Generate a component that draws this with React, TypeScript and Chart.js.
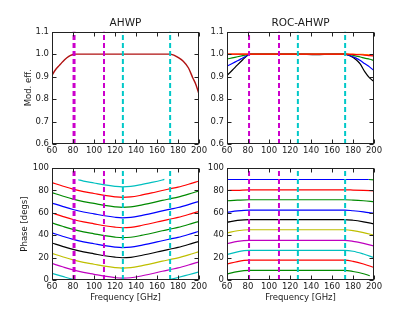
import React, { useEffect, useRef } from 'react';
import { Chart, registerables } from 'chart.js';
Chart.register(...registerables);

// ---------- data ----------
const bandMagenta = [81, 109.5];
const bandCyan = [127.5, 172.5];

// AHWP modulation efficiency
const ahwpFreq = [60, 63, 66, 68, 72, 76, 80, 82, 100, 127, 150, 172, 176, 180, 185, 190, 194, 197, 200];
const ahwpEff = [0.905, 0.928, 0.945, 0.955, 0.975, 0.99, 0.998, 1.0, 1.0, 1.0, 1.0, 1.0, 0.995, 0.985, 0.968, 0.938, 0.895, 0.865, 0.822];

// ROC-AHWP modulation efficiency
const rocFreq = [60, 65, 70, 75, 80, 82, 100, 127, 145, 160, 172, 177, 183, 187, 191, 196, 200];
const rocBlack = [0.905, 0.928, 0.952, 0.975, 0.996, 1.0, 1.0, 1.0, 0.997, 1.0, 1.0, 0.993, 0.975, 0.955, 0.923, 0.893, 0.878];
const rocBlue = [0.947, 0.958, 0.97, 0.983, 0.996, 1.0, 1.0, 1.0, 0.999, 1.0, 1.0, 0.993, 0.982, 0.971, 0.958, 0.942, 0.927];
const rocGreen = [0.978, 0.983, 0.988, 0.993, 0.998, 1.0, 1.0, 1.0, 1.0, 1.0, 1.0, 0.997, 0.991, 0.987, 0.982, 0.977, 0.971];
const rocRed = [1.0, 1.0, 1.0, 1.0, 1.0, 1.0, 1.0, 1.0, 1.0, 1.0, 1.0, 0.999, 0.998, 0.997, 0.995, 0.993, 0.991];
const rocOrange = [1.0, 1.0, 1.0, 1.0, 1.0, 1.0, 1.0, 1.0, 1.0, 1.0, 1.0, 1.0, 0.999, 0.999, 0.998, 0.997, 0.996];

// AHWP phase
const phaseFreq = [60, 70, 80, 90, 100, 110, 120, 127, 135, 145, 155, 165, 173, 180, 190, 200];
const phaseRed1 = [87.0, 84.0, 81.2, 79.0, 77.3, 75.6, 74.3, 73.8, 74.2, 75.8, 77.8, 80.0, 81.6, 83.0, 85.6, 88.5];
const phaseGreen1 = [78.1, 75.1, 72.3, 70.1, 68.4, 66.7, 65.4, 64.9, 65.3, 66.9, 68.9, 71.1, 72.7, 74.1, 76.7, 79.6];
const phaseBlue1 = [68.8, 65.8, 63.0, 60.8, 59.1, 57.4, 56.1, 55.6, 56.0, 57.6, 59.6, 61.8, 63.4, 64.8, 67.4, 70.3];
const phaseRed2 = [59.9, 56.9, 54.1, 51.9, 50.2, 48.5, 47.2, 46.7, 47.1, 48.7, 50.7, 52.9, 54.5, 55.9, 58.5, 61.4];
const phaseGreen2 = [51.0, 48.0, 45.2, 43.0, 41.3, 39.6, 38.3, 37.8, 38.2, 39.8, 41.8, 44.0, 45.6, 47.0, 49.6, 52.5];
const phaseBlue2 = [42.1, 39.1, 36.3, 34.1, 32.4, 30.7, 29.4, 28.9, 29.3, 30.9, 32.9, 35.1, 36.7, 38.1, 40.7, 43.6];
const phaseBlack = [33.1, 30.1, 27.3, 25.1, 23.4, 21.7, 20.4, 19.9, 20.3, 21.9, 23.9, 26.1, 27.7, 29.1, 31.7, 34.6];
const phaseYellow = [23.8, 20.8, 18.0, 15.8, 14.1, 12.4, 11.1, 10.6, 11.0, 12.6, 14.6, 16.8, 18.4, 19.8, 22.4, 25.3];
const phaseMagenta = [14.8, 11.8, 9.0, 6.8, 5.1, 3.4, 2.1, 1.6, 2.0, 3.6, 5.6, 7.8, 9.4, 10.8, 13.4, 16.3];
const cyanTopFreq = [85, 90, 100, 110, 120, 127, 135, 145, 155, 165, 167];
const cyanTop = [89.6, 88.4, 86.7, 85.0, 83.7, 83.2, 83.6, 85.2, 87.2, 89.4, 89.9];
const cyanLowLFreq = [60, 70, 80, 83];
const cyanLowL = [5.9, 3.2, 0.6, 0.0];
const cyanLowRFreq = [171, 180, 190, 200];
const cyanLowR = [0.1, 2.2, 4.7, 7.2];

// ROC-AHWP phase
const rocPhaseFreq = [60, 70, 81, 100, 127, 150, 172, 180, 190, 200];
const rpBlueTopFreq = [60, 195];
const rpBlueTop = [89.8, 89.8];
const rpGreenWrapFreq = [195, 200];
const rpGreenWrap = [89.8, 89.5];
const rpRed80 = [80.0, 80.1, 80.6, 80.6, 80.6, 80.6, 80.6, 80.4, 80.1, 79.7];
const rpGreen71 = [70.8, 71.3, 71.7, 71.7, 71.7, 71.7, 71.7, 71.4, 70.8, 70.0];
const rpBlue62 = [60.5, 61.8, 62.5, 62.5, 62.5, 62.5, 62.5, 61.9, 60.9, 59.6];
const rpBlack53 = [51.6, 53.2, 54.0, 54.0, 54.0, 54.0, 54.0, 53.4, 52.0, 50.2];
const rpYellow44 = [42.2, 44.0, 44.9, 44.9, 44.9, 44.9, 44.9, 44.2, 42.4, 40.1];
const rpMagenta35 = [32.5, 34.5, 35.4, 35.4, 35.4, 35.4, 35.4, 34.6, 32.8, 30.4];
const rpCyan26 = [22.7, 25.2, 26.5, 26.5, 26.5, 26.5, 26.5, 25.7, 23.2, 20.1];
const rpRed17 = [14.2, 16.5, 17.7, 17.7, 17.7, 17.7, 17.7, 16.7, 14.3, 11.2];
const rpGreen8Freq = [60, 70, 81, 100, 127, 150, 172, 180, 190, 196];
const rpGreen8 = [5.3, 7.5, 8.6, 8.6, 8.6, 8.6, 8.6, 7.6, 5.6, 3.8];

// ---------- styling ----------
const C = {
  b: '#0000ff', g: '#008a00', r: '#ff0000', c: '#00bfbf', m: '#bf00bf', y: '#bfbf00', k: '#000000',
  o: '#ff8c00', dark: '#b01010', dm: '#cc00cc', dc: '#00c8c8',
};
const FONT = 'DejaVu Sans';
const TXT = '#1a1a1a';

const pts = (xs: number[], ys: number[]) => xs.map((x, i) => ({ x, y: ys[i] }));

const line = (xs: number[], ys: number[], color: string, width = 1.2) => ({
  data: pts(xs, ys),
  borderColor: color,
  borderWidth: width,
  pointRadius: 0,
  fill: false,
  cubicInterpolationMode: 'monotone' as const,
});

const vlines = (ymin: number, ymax: number, thickFirst: boolean) => [
  ...bandMagenta.map((f, i) => ({
    data: [{ x: f, y: ymin }, { x: f, y: ymax }],
    borderColor: C.dm,
    borderWidth: thickFirst && i === 0 ? 3 : 2,
    borderDash: [5, 3],
    pointRadius: 0,
    fill: false,
  })),
  ...bandCyan.map((f) => ({
    data: [{ x: f, y: ymin }, { x: f, y: ymax }],
    borderColor: C.dc,
    borderWidth: 2,
    borderDash: [5, 3],
    pointRadius: 0,
    fill: false,
  })),
];

const framePlugin = {
  id: 'frame',
  afterDatasetsDraw(chart: any) {
    const { ctx, chartArea, scales } = chart;
    const L = Math.round(chartArea.left) + 0.5;
    const R = Math.round(chartArea.right) - 0.5;
    const T = Math.round(chartArea.top) + 0.5;
    const B = Math.round(chartArea.bottom) - 0.5;
    ctx.save();
    ctx.strokeStyle = '#222';
    ctx.lineWidth = 1;
    ctx.setLineDash([]);
    ctx.strokeRect(L, T, R - L, B - T);
    ctx.beginPath();
    const len = 4;
    scales.x.ticks.forEach((t: any) => {
      const px = Math.round(scales.x.getPixelForValue(t.value)) + 0.5;
      ctx.moveTo(px, B); ctx.lineTo(px, B - len);
      ctx.moveTo(px, T); ctx.lineTo(px, T + len);
    });
    scales.y.ticks.forEach((t: any) => {
      const py = Math.round(scales.y.getPixelForValue(t.value)) + 0.5;
      ctx.moveTo(L, py); ctx.lineTo(L + len, py);
      ctx.moveTo(R, py); ctx.lineTo(R - len, py);
    });
    ctx.stroke();
    ctx.restore();
  },
};

type Panel = {
  left: number; top: number; width: number; height: number;
  datasets: any[];
  yMin: number; yMax: number; yStep: number; decimals: number;
  title?: string; yTitle?: string; xTitle?: string;
  yAxisWidth: number; xAxisHeight: number;
  pad: { left: number; right: number; top: number; bottom: number };
  yTitlePad?: number; xTitlePad?: number;
};

function makeConfig(p: Panel): any {
  return {
    type: 'line',
    data: { datasets: p.datasets },
    plugins: [framePlugin],
    options: {
      responsive: false,
      animation: false,
      events: [],
      layout: { padding: p.pad },
      plugins: {
        legend: { display: false },
        tooltip: { enabled: false },
        title: p.title
          ? {
              display: true,
              fullSize: false,
              text: p.title,
              color: TXT,
              font: { family: FONT, size: 10.5, weight: 'normal' },
              padding: { top: 17, bottom: 2 },
            }
          : { display: false },
      },
      scales: {
        x: {
          type: 'linear',
          min: 60,
          max: 200,
          grid: { display: false, drawTicks: false },
          border: { display: false },
          ticks: {
            stepSize: 20,
            autoSkip: false,
            maxRotation: 0,
            minRotation: 0,
            padding: 2,
            color: TXT,
            font: { family: FONT, size: 8.5 },
          },
          title: p.xTitle
            ? {
                display: true,
                text: p.xTitle,
                color: TXT,
                font: { family: FONT, size: 8.5 },
                padding: { top: 0, bottom: p.xTitlePad ?? 0 },
              }
            : { display: false },
          afterFit: (s: any) => { s.height = p.xAxisHeight; },
        },
        y: {
          type: 'linear',
          min: p.yMin,
          max: p.yMax,
          grid: { display: false, drawTicks: false },
          border: { display: false },
          ticks: {
            stepSize: p.yStep,
            autoSkip: false,
            padding: 3,
            color: TXT,
            font: { family: FONT, size: 8.5 },
            callback: (v: any) => Number(v).toFixed(p.decimals),
          },
          title: p.yTitle
            ? {
                display: true,
                text: p.yTitle,
                color: TXT,
                font: { family: FONT, size: 8.5 },
                padding: { top: p.yTitlePad ?? 0, bottom: 0 },
              }
            : { display: false },
          afterFit: (s: any) => { s.width = p.yAxisWidth; },
        },
      },
    },
  };
}

const panels: Panel[] = [
  {
    left: 0, top: 0, width: 210, height: 160,
    datasets: [...vlines(0.6, 1.1, true), line(ahwpFreq, ahwpEff, C.dark, 1.4)],
    yMin: 0.6, yMax: 1.1, yStep: 0.1, decimals: 1,
    title: 'AHWP', yTitle: 'Mod. eff.',
    yAxisWidth: 52, xAxisHeight: 16,
    pad: { left: 0, right: 11, top: 0, bottom: 0 },
    yTitlePad: 24,
  },
  {
    left: 205, top: 0, width: 210, height: 160,
    datasets: [
      ...vlines(0.6, 1.1, false),
      line(rocFreq, rocRed, C.r),
      line(rocFreq, rocOrange, C.o),
      line(rocFreq, rocGreen, C.g),
      line(rocFreq, rocBlue, C.b),
      line(rocFreq, rocBlack, C.k),
    ],
    yMin: 0.6, yMax: 1.1, yStep: 0.1, decimals: 1,
    title: 'ROC-AHWP',
    yAxisWidth: 22, xAxisHeight: 16,
    pad: { left: 0, right: 41, top: 0, bottom: 0 },
  },
  {
    left: 0, top: 160, width: 210, height: 152,
    datasets: [
      ...vlines(0, 100, true),
      line(cyanTopFreq, cyanTop, C.c),
      line(phaseFreq, phaseRed1, C.r),
      line(phaseFreq, phaseGreen1, C.g),
      line(phaseFreq, phaseBlue1, C.b),
      line(phaseFreq, phaseRed2, C.r),
      line(phaseFreq, phaseGreen2, C.g),
      line(phaseFreq, phaseBlue2, C.b),
      line(phaseFreq, phaseBlack, C.k),
      line(phaseFreq, phaseYellow, C.y),
      line(phaseFreq, phaseMagenta, C.m),
      line(cyanLowLFreq, cyanLowL, C.c),
      line(cyanLowRFreq, cyanLowR, C.c),
    ],
    yMin: 0, yMax: 100, yStep: 20, decimals: 0,
    yTitle: 'Phase [degs]', xTitle: 'Frequency [GHz]',
    yAxisWidth: 52, xAxisHeight: 32,
    pad: { left: 0, right: 11, top: 7, bottom: 0 },
    yTitlePad: 20, xTitlePad: 9,
  },
  {
    left: 205, top: 160, width: 210, height: 152,
    datasets: [
      ...vlines(0, 100, false),
      line(rpBlueTopFreq, rpBlueTop, C.b),
      line(rpGreenWrapFreq, rpGreenWrap, C.g),
      line(rocPhaseFreq, rpRed80, C.r),
      line(rocPhaseFreq, rpGreen71, C.g),
      line(rocPhaseFreq, rpBlue62, C.b),
      line(rocPhaseFreq, rpBlack53, C.k),
      line(rocPhaseFreq, rpYellow44, C.y),
      line(rocPhaseFreq, rpMagenta35, C.m),
      line(rocPhaseFreq, rpCyan26, C.c),
      line(rocPhaseFreq, rpRed17, C.r),
      line(rpGreen8Freq, rpGreen8, C.g),
    ],
    yMin: 0, yMax: 100, yStep: 20, decimals: 0,
    xTitle: 'Frequency [GHz]',
    yAxisWidth: 22, xAxisHeight: 32,
    pad: { left: 0, right: 41, top: 7, bottom: 0 },
    xTitlePad: 9,
  },
];

export default function App() {
  const refs = [useRef<HTMLCanvasElement>(null), useRef<HTMLCanvasElement>(null), useRef<HTMLCanvasElement>(null), useRef<HTMLCanvasElement>(null)];
  useEffect(() => {
    const charts = panels.map((p, i) => new Chart(refs[i].current as HTMLCanvasElement, makeConfig(p)));
    return () => charts.forEach((c) => c.destroy());
  }, []);
  return (
    <div style={{ position: 'absolute', left: 0, top: 0, width: 415, height: 312, background: '#fff' }}>
      {panels.map((p, i) => (
        <canvas
          key={i}
          ref={refs[i]}
          width={p.width}
          height={p.height}
          style={{ position: 'absolute', left: p.left, top: p.top, width: p.width, height: p.height }}
        />
      ))}
    </div>
  );
}
